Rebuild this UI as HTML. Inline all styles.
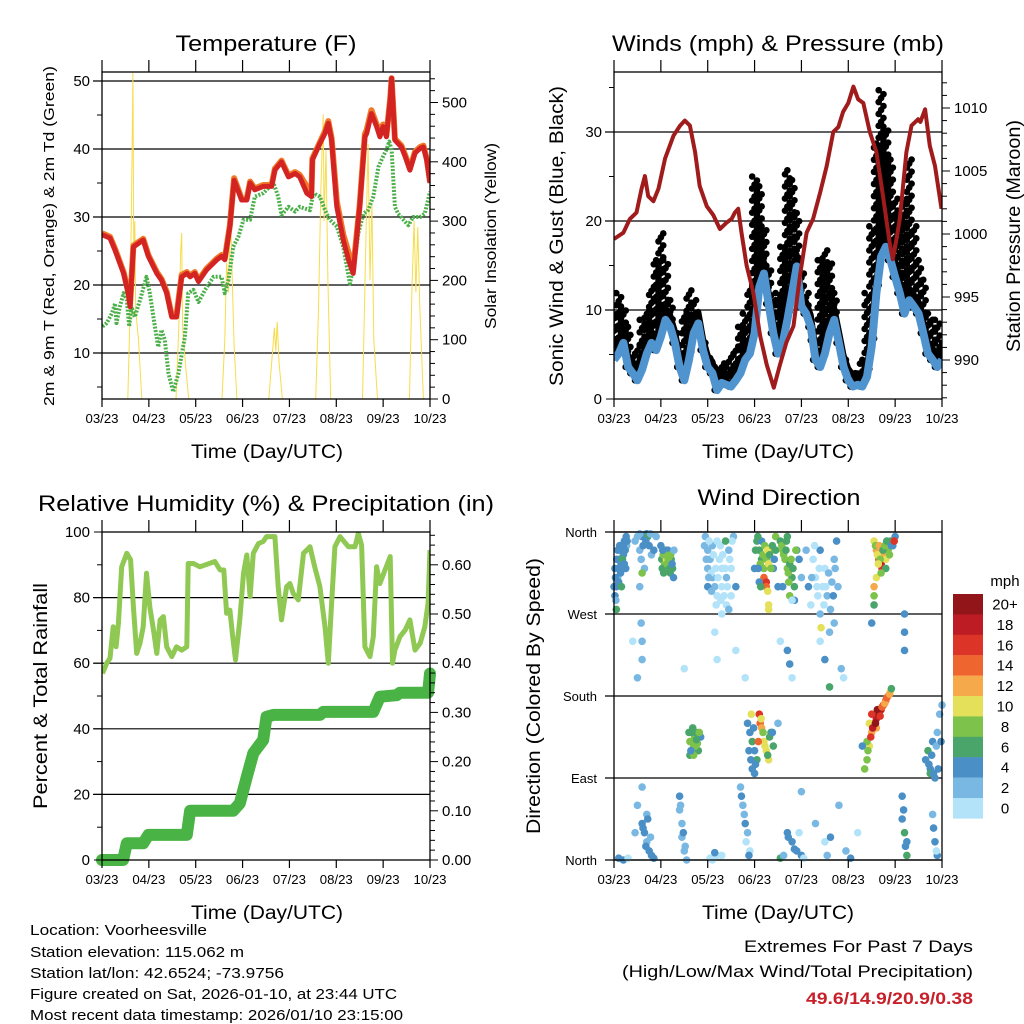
<!DOCTYPE html>
<html><head><meta charset="utf-8"><style>
html,body{margin:0;padding:0;background:#fff}
svg{display:block;font-family:"Liberation Sans",Arial,sans-serif}
</style></head><body>
<svg id="s" width="1024" height="1024" viewBox="0 0 1024 1024">
<rect x="0" y="0" width="1024" height="1024" fill="#fff"/>
<g font-size="22" text-anchor="middle" fill="#000">
<text x="266" y="51" textLength="181" lengthAdjust="spacingAndGlyphs">Temperature (F)</text>
<text x="778" y="51" textLength="332" lengthAdjust="spacingAndGlyphs">Winds (mph) &amp; Pressure (mb)</text>
<text x="266" y="511" textLength="456" lengthAdjust="spacingAndGlyphs">Relative Humidity (%) &amp; Precipitation (in)</text>
<text x="779" y="505" textLength="163" lengthAdjust="spacingAndGlyphs">Wind Direction</text>
</g>
<g font-size="19" text-anchor="middle">
<text x="267" y="458" textLength="152" lengthAdjust="spacingAndGlyphs">Time (Day/UTC)</text>
<text x="778" y="458" textLength="152" lengthAdjust="spacingAndGlyphs">Time (Day/UTC)</text>
<text x="267" y="919" textLength="152" lengthAdjust="spacingAndGlyphs">Time (Day/UTC)</text>
<text x="778" y="919" textLength="152" lengthAdjust="spacingAndGlyphs">Time (Day/UTC)</text>
<text transform="translate(54,236) rotate(-90)" font-size="15" textLength="340" lengthAdjust="spacingAndGlyphs">2m &amp; 9m T (Red, Orange) &amp; 2m Td (Green)</text>
<text transform="translate(496,236) rotate(-90)" font-size="16" textLength="186" lengthAdjust="spacingAndGlyphs">Solar Insolation (Yellow)</text>
<text transform="translate(563,236) rotate(-90)" font-size="19" textLength="300" lengthAdjust="spacingAndGlyphs">Sonic Wind &amp; Gust (Blue, Black)</text>
<text transform="translate(1020,236) rotate(-90)" font-size="19" textLength="232" lengthAdjust="spacingAndGlyphs">Station Pressure (Maroon)</text>
<text transform="translate(47,696) rotate(-90)" font-size="19" textLength="226" lengthAdjust="spacingAndGlyphs">Percent &amp; Total Rainfall</text>
<text transform="translate(540,696) rotate(-90)" font-size="19" textLength="276" lengthAdjust="spacingAndGlyphs">Direction (Colored By Speed)</text>
</g>
<g font-size="15" fill="#000">
<text x="30" y="935" textLength="177" lengthAdjust="spacingAndGlyphs">Location: Voorheesville</text>
<text x="30" y="957" textLength="214" lengthAdjust="spacingAndGlyphs">Station elevation: 115.062 m</text>
<text x="30" y="978" textLength="254" lengthAdjust="spacingAndGlyphs">Station lat/lon: 42.6524; -73.9756</text>
<text x="30" y="999" textLength="367" lengthAdjust="spacingAndGlyphs">Figure created on Sat, 2026-01-10, at 23:44 UTC</text>
<text x="30" y="1020" textLength="373" lengthAdjust="spacingAndGlyphs">Most recent data timestamp: 2026/01/10 23:15:00</text>
</g>
<g font-size="17" text-anchor="end">
<text x="973" y="952" textLength="229" lengthAdjust="spacingAndGlyphs">Extremes For Past 7 Days</text>
<text x="973" y="977" textLength="351" lengthAdjust="spacingAndGlyphs">(High/Low/Max Wind/Total Precipitation)</text>
<text x="973" y="1004" fill="#c8202a" font-weight="bold" textLength="167" lengthAdjust="spacingAndGlyphs">49.6/14.9/20.9/0.38</text>
</g>
<text x="1005" y="586" font-size="15" text-anchor="middle">mph</text>
</svg>
<script>
// ---------- data ----------
var xTickLabels=["03/23","04/23","05/23","06/23","07/23","08/23","09/23","10/23"];
var tempDays=[0,0.17,0.28,0.46,0.56,0.60,0.67,0.88,0.99,1.17,1.27,1.38,1.49,1.59,1.70,1.81,1.88,1.98,2.06,2.23,2.45,2.55,2.62,2.73,2.82,2.87,2.98,3.09,3.16,3.26,3.44,3.62,3.69,3.83,3.98,4.12,4.22,4.37,4.47,4.49,4.65,4.76,4.83,4.90,5.01,5.15,5.26,5.36,5.43,5.50,5.61,5.65,5.75,5.86,5.93,6.00,6.07,6.15,6.18,6.22,6.25,6.39,6.47,6.57,6.68,6.79,6.86,6.93,7.0];
var temp2m=[27.4,26.9,25.1,21.7,18.8,16.8,25.6,26.6,24.2,21.7,20.7,18.8,15.3,15.3,21.2,21.7,21.2,21.7,20.5,22.2,23.7,24.2,23.7,28.6,35.4,34.5,32.5,32.5,35.0,34.0,34.5,34.5,36.9,38.1,35.9,36.4,35.9,33.5,33.0,38.4,40.8,42.3,43.8,41.3,31.5,26.6,23.7,21.7,26.6,31.5,41.8,42.3,45.2,43.3,41.8,43.3,41.8,47.2,50.4,45.2,41.3,40.3,38.9,36.9,39.4,40.1,40.3,38.4,35.0];
var temp9m=[27.6,27.1,25.3,21.9,19.0,17.2,25.8,26.8,24.4,21.9,20.9,19.0,15.5,15.5,21.5,21.9,21.4,21.9,20.7,22.4,23.9,24.4,23.9,28.8,35.7,34.8,32.7,32.7,35.2,34.2,34.7,34.7,37.1,38.3,36.1,36.6,36.2,34.5,33.8,38.6,41.0,42.6,44.1,41.6,32.3,27.4,24.8,22.3,27.0,31.8,42.2,42.8,45.7,43.6,42.8,43.6,42.0,47.4,50.4,45.4,41.5,40.5,39.1,37.1,39.6,40.3,40.5,38.6,35.2];
var dewDays=[0.01,0.10,0.21,0.28,0.31,0.38,0.46,0.53,0.58,0.63,0.70,0.81,0.95,1.02,1.13,1.20,1.27,1.34,1.42,1.52,1.63,1.77,1.84,1.95,2.06,2.20,2.38,2.55,2.62,2.70,2.80,2.91,3.02,3.16,3.26,3.44,3.66,3.76,3.83,3.98,4.12,4.22,4.44,4.51,4.65,4.76,4.86,5.01,5.15,5.29,5.40,5.47,5.58,5.68,5.79,5.90,6.00,6.07,6.13,6.18,6.25,6.32,6.43,6.54,6.64,6.79,6.89,7.0];
var dewVals=[13.9,14.4,15.8,17.3,14.4,16.8,18.8,17.8,13.9,16.8,15.3,17.8,21.2,18.8,13.9,10.9,13.4,11.9,7.0,4.3,7.0,12.4,18.8,19.3,17.5,19.3,21.2,21.2,18.8,20.7,25.6,27.1,29.6,29.6,33.0,33.5,35.0,33.0,30.3,31.5,30.8,31.5,31.0,33.5,33.0,31.0,29.6,28.6,25.6,20.2,23.7,27.6,30.5,31.0,33.0,37.4,38.9,39.9,41.1,39.9,31.5,30.5,29.6,28.8,30.0,30.0,30.5,33.7];
var solarDays=[0,0.55,0.60,0.64,0.66,0.68,0.70,0.72,0.78,0.85,1.58,1.64,1.68,1.70,1.72,1.78,1.85,2.56,2.62,2.66,2.70,2.74,2.78,2.82,2.88,3.56,3.62,3.68,3.71,3.74,3.78,3.85,4.56,4.62,4.67,4.72,4.74,4.78,4.82,4.88,5.56,5.60,5.64,5.68,5.72,5.76,5.80,5.88,6.56,6.62,6.66,6.70,6.74,6.78,6.86,7.0];
var solarVals=[0,0,150,400,550,200,300,150,100,0,0,120,250,280,120,60,0,0,100,230,180,320,200,90,0,0,60,120,80,130,60,0,0,150,350,480,300,420,200,0,0,150,300,430,200,330,100,0,0,200,300,180,290,160,0,0];
var presDays=[0,0.20,0.34,0.48,0.59,0.66,0.73,0.84,0.95,1.09,1.27,1.41,1.51,1.62,1.73,1.83,1.98,2.12,2.26,2.40,2.51,2.58,2.65,2.72,2.83,2.97,3.12,3.26,3.41,3.54,3.68,3.83,3.97,4.11,4.25,4.40,4.54,4.68,4.79,4.89,5.00,5.11,5.21,5.32,5.46,5.60,5.75,5.89,5.95,6.03,6.10,6.24,6.35,6.49,6.54,6.64,6.74,6.85,6.99];
var presVals=[999.6,1000.1,1001.2,1001.7,1003.6,1004.6,1003.0,1002.6,1003.6,1006.0,1007.8,1008.6,1009.0,1008.6,1006.5,1003.8,1002.2,1001.5,1000.4,1000.9,1001.2,1001.7,1002.0,1000.1,997.5,995.4,991.9,989.6,987.8,989.6,991.4,992.7,996.7,1000.1,1001.2,1003.3,1005.4,1008.1,1008.5,1009.7,1010.4,1011.7,1010.7,1010.4,1008.1,1006.5,1002.8,999.1,998.0,999.6,1001.2,1006.5,1008.6,1009.1,1008.9,1009.9,1007.0,1005.4,1002.0];
var windDays=[0,0.1,0.2,0.3,0.4,0.5,0.6,0.7,0.8,0.9,1.0,1.1,1.2,1.3,1.4,1.5,1.6,1.7,1.8,1.9,2.0,2.1,2.2,2.3,2.4,2.5,2.6,2.7,2.8,2.9,3.0,3.1,3.2,3.3,3.4,3.5,3.6,3.7,3.8,3.9,4.0,4.1,4.2,4.3,4.4,4.5,4.6,4.7,4.8,4.9,5.0,5.1,5.2,5.3,5.4,5.5,5.6,5.7,5.8,5.9,6.0,6.1,6.2,6.3,6.4,6.5,6.6,6.7,6.8,6.9,7.0];
var windMean=[4.4,5.1,6.3,3.6,2.9,2.1,3.3,5.1,6.3,5.5,7.0,8.9,8.1,6.3,3.6,2.1,4.4,7.4,8.5,5.5,3.6,2.9,1.0,1.8,1.6,1.4,2.1,2.9,4.4,5.1,7.4,12.6,14.1,10.7,7.4,5.1,6.3,8.9,11.9,14.9,10.4,9.6,8.1,4.4,3.6,5.1,7.4,8.9,6.3,3.6,2.1,1.4,1.6,1.4,2.5,5.9,11.9,16.0,17.1,15.6,13.7,11.9,9.6,11.1,10.4,9.6,7.4,5.1,4.4,3.6,4.4];
var gustMax=[10,11.9,10.4,8.1,5.1,5.9,8.9,10,12.6,15.6,18.6,15.6,11.1,7.4,5.1,9.6,12.2,11.1,7.4,6.3,5.1,3.6,3.3,4.0,3.6,5.1,5.9,8.1,9.6,12.6,25,23.9,19.4,14.9,11.1,11.9,17.1,25.7,24.6,20.9,14.1,11.9,6.6,5.1,15.6,16.7,15.2,11.9,6.6,4.4,3.3,2.9,2.9,4.4,11.9,19.4,28.7,34.7,30.6,26.9,22.5,20.5,22.5,26.9,19.4,15.6,13.4,9.6,8.9,8.9,6.3];
var rhDays=[0.01,0.10,0.17,0.24,0.30,0.35,0.42,0.53,0.61,0.67,0.74,0.81,0.88,0.95,1.02,1.10,1.17,1.24,1.31,1.38,1.49,1.59,1.70,1.81,1.84,1.95,2.09,2.41,2.52,2.60,2.66,2.73,2.79,2.85,2.94,3.02,3.09,3.16,3.23,3.34,3.44,3.51,3.69,3.76,3.83,3.94,4.01,4.08,4.19,4.30,4.44,4.54,4.65,4.76,4.83,4.90,4.97,5.08,5.26,5.40,5.47,5.54,5.61,5.72,5.79,5.86,5.93,6.04,6.15,6.20,6.25,6.36,6.47,6.57,6.68,6.79,6.89,6.96,7.0];
var rhVals=[56.9,60.0,61.5,71.1,65.0,72.2,89.4,93.5,91.5,77.2,63.0,66.1,71.1,87.4,77.2,70.1,63.0,73.2,74.2,65.0,62.0,65.0,64.0,65.0,90.4,90.4,89.4,91.0,88.4,88.4,75.2,76.2,68.1,61.0,73.2,87.4,93.0,80.3,93.5,96.5,97.1,98.6,98.6,83.3,73.2,83.3,84.3,81.3,79.3,93.5,95.5,89.4,83.3,71.1,60.0,78.3,95.5,98.6,95.5,95.5,99.6,96.0,65.0,62.0,68.1,89.4,84.3,88.4,92.5,60.0,64.0,68.1,70.1,73.2,64.0,66.1,71.1,78.3,94.5];
var precipDays=[0,0.45,0.53,0.88,0.99,1.81,1.88,2.80,2.94,3.09,3.23,3.44,3.51,3.66,4.65,4.72,5.79,5.93,6.29,6.36,6.96,7.0];
var precipVals=[0,0,0.034,0.034,0.051,0.051,0.10,0.10,0.115,0.169,0.217,0.244,0.291,0.295,0.295,0.301,0.301,0.332,0.335,0.34,0.34,0.379];
var dirDays=[0.02,0.05,0.08,0.1,0.12,0.15,0.18,0.2,0.25,0.05,0.03,0.22,0.27,0.1,0.15,0.45,0.55,0.6,0.7,0.75,0.8,0.65,0.55,0.58,0.6,0.6,0.72,1.02,1.05,1.08,1.1,1.12,1.15,1.18,1.2,1.22,1.25,1.1,1.15,1.27,1.0,1.95,2.0,2.0,2.05,2.1,2.1,2.15,2.2,2.25,2.3,2.3,2.35,2.4,2.45,2.5,2.4,2.55,2.6,2.0,2.2,2.15,2.3,2.5,3.05,3.1,3.15,3.2,3.25,3.3,3.35,3.2,3.25,3.25,3.28,3.3,3.3,3.15,3.0,3.45,3.45,3.4,3.5,3.1,3.55,3.6,3.65,3.7,3.75,3.8,3.85,3.75,3.7,3.9,3.95,4.0,3.6,3.85,4.25,4.3,4.35,4.4,4.45,4.5,4.55,4.6,4.65,4.7,4.75,4.4,4.1,4.15,4.2,4.7,5.55,5.6,5.65,5.7,5.72,5.75,5.8,5.85,5.9,5.95,6.0,5.6,5.55,5.55,5.55,5.5,5.8,1.6,1.65,1.7,1.72,1.75,1.8,1.62,1.68,1.78,1.85,2.85,2.9,2.95,3.0,3.05,3.1,3.12,3.15,3.2,3.25,3.3,3.35,3.4,2.95,3.0,3.5,5.35,5.4,5.45,5.5,5.55,5.6,5.65,5.7,5.75,5.8,5.85,5.9,5.5,5.6,5.45,5.4,5.3,6.65,6.7,6.75,6.8,6.85,6.9,6.95,7.0,6.75,0.6,0.65,0.7,0.7,0.75,0.8,0.2,0.6,0.5,1.4,1.4,1.45,1.45,1.5,1.55,2.1,2.2,2.3,2.7,2.75,2.8,2.85,2.9,3.55,3.7,3.8,3.9,4.0,4.3,4.5,4.8,4.95,6.15,6.15,6.2,6.25,6.25,6.8,6.85,6.9,0.45,5.2,4.0,0.4,0.5,1.5,2.2,2.6,2.8,3.55,3.7,3.75,3.8,4.4,4.5,4.85,4.9,4.6,6.2,6.2,6.2,
0.0,0.02,0.04,0.06,0.08,0.12,0.14,0.16,0.18,0.2,0.22,0.24,0.26,0.28,0.5,0.55,0.62,0.68,0.78,0.85,0.9,0.58,0.6,1.03,1.06,1.09,1.13,1.16,1.19,1.21,1.24,1.04,1.28,1.93,1.97,2.03,2.07,2.12,2.17,2.22,2.27,2.32,2.37,2.42,2.47,2.52,2.18,2.28,2.45,2.02,2.08,2.38,3.02,3.07,3.12,3.18,3.22,3.27,3.32,3.35,3.38,3.42,3.08,3.13,3.58,3.62,3.67,3.72,3.78,3.82,3.88,3.68,3.73,3.8,4.22,4.28,4.33,4.38,4.48,4.52,4.58,4.62,4.68,4.72,4.78,4.42,5.58,5.62,5.66,5.68,5.74,5.78,5.82,5.88,5.92,5.98,5.64,5.7,1.62,1.66,1.7,1.74,1.76,1.82,1.64,2.88,2.92,2.98,3.02,3.08,3.14,3.18,3.22,3.28,3.32,3.38,2.93,5.42,5.48,5.52,5.58,5.62,5.68,5.72,5.78,5.82,5.88,5.92,6.72,6.78,6.82,6.88,6.92,6.98,0.62,0.68,0.72,0.78,0.85,1.42,1.48,1.52,2.72,2.78,2.82,2.88,3.62,3.72,3.85,3.95,4.55,4.62,6.18,6.22,6.82,6.88,2.05,2.15,4.05,5.05,0.1,0.3];
var dirDegs=[290,300,310,320,330,340,345,335,320,275,310,350,345,305,325,350,340,355,358,345,335,320,300,260,240,220,355,330,335,325,320,330,318,325,315,330,320,340,340,310,345,355,340,320,330,310,345,300,350,330,320,300,290,310,340,320,280,355,300,300,290,250,270,290,350,340,330,320,330,325,340,310,305,300,295,280,275,350,320,340,355,320,300,305,350,340,330,320,325,310,300,290,355,340,330,310,300,285,330,310,290,270,300,320,290,250,305,330,350,340,340,300,280,260,350,340,330,325,320,335,330,340,350,345,355,310,300,290,280,260,320,140,130,125,135,140,120,115,145,128,135,150,140,130,120,110,160,150,145,130,120,110,140,125,100,95,150,100,110,125,140,150,155,160,165,170,175,180,185,160,145,150,130,125,110,120,100,130,90,140,160,170,95,40,30,20,50,10,5,0,80,60,70,55,40,25,10,0,0,5,5,80,60,40,30,10,2,30,20,10,5,40,20,60,10,70,45,30,20,5,50,20,5,30,30,75,240,200,210,220,230,200,240,230,215,200,240,220,210,200,190,250,270,230,
300,320,285,330,340,345,315,300,330,345,325,340,355,350,355,358,345,350,358,340,355,330,315,320,315,335,325,330,320,335,325,340,340,345,330,350,315,335,320,310,345,335,320,300,330,350,280,285,275,310,295,350,340,355,325,335,345,340,335,320,345,330,320,300,345,335,340,315,330,320,340,350,305,285,310,345,300,320,280,300,315,275,290,320,300,255,345,335,345,330,340,345,350,335,345,350,325,315,130,140,115,125,132,140,120,120,110,145,105,130,155,140,125,115,135,140,160,120,135,145,150,165,158,168,172,178,182,188,105,115,95,125,100,130,35,15,45,25,2,60,30,15,70,50,20,5,5,25,12,30,5,25,55,15,35,10,2,8,2,2,2,2];
var dirSpds=[4,4,3,5,6,4,4,5,4,6,4,4,3,4,4,2,2,4,4,4,3,2,2,2,2,2,6,7,8,8,9,10,8,7,6,6,7,6,4,4,4,3,3,2,3,2,2,2,1,1,1,1,1,2,2,1,1,3,4,4,0,0,1,0,6,7,6,8,8,10,8,14,16,14,10,10,10,4,4,6,8,4,4,4,6,8,8,8,6,6,6,8,7,4,4,2,4,4,1,1,1,2,1,0,2,2,2,3,4,4,2,4,0,2,10,12,14,18,16,12,10,8,6,4,4,10,12,8,6,4,6,6,8,8,8,6,6,6,7,8,4,4,4,6,4,6,16,14,12,10,10,10,6,6,4,4,2,8,8,10,12,14,18,20,18,16,14,12,10,16,12,10,8,4,4,6,4,4,4,2,2,2,6,4,4,2,3,4,4,4,2,2,4,3,2,2,2,2,0,0,0,2,2,4,2,0,6,4,4,4,4,2,0,2,2,4,4,6,4,6,2,4,4,2,0,2,0,2,0,0,0,0,0,4,4,0,0,4,2,0,6,4,4,
4,4,4,3,4,4,5,4,6,6,4,4,4,4,4,2,2,4,4,2,4,2,2,8,6,6,8,8,8,6,8,4,4,2,2,2,1,1,1,0,1,0,1,0,1,1,0,0,0,2,2,2,6,6,6,8,8,8,10,6,8,6,4,4,6,8,8,6,8,8,6,8,6,8,1,2,1,0,1,1,0,2,2,4,2,2,10,8,10,12,8,6,8,6,8,4,16,10,8,8,6,8,8,6,8,4,4,4,4,4,14,10,8,10,6,6,4,10,8,16,18,20,20,16,14,12,14,12,6,4,4,4,2,4,4,4,4,4,2,4,2,4,2,4,2,0,4,2,4,4,0,2,4,4,4,4,0,0,4,0,4,4];
var speedBinLabels=["20+","18","16","14","12","10","8","6","4","2","0"];
var speedColors=["#b3e3f9","#7ab8e4","#4a8fc6","#4aa56b","#7dc24a","#e5e05a","#f5a94a","#ee6530","#dd3428","#bd1c24","#921619"];

// ---------- helpers ----------
var NS="http://www.w3.org/2000/svg", svg=document.getElementById('s');
function mk(tag,attrs,parent){var e=document.createElementNS(NS,tag);for(var k in attrs)e.setAttribute(k,attrs[k]);(parent||svg).appendChild(e);return e;}
function dayX(p,d){return p.x0+d*(p.x1-p.x0)/7;}
function pathOf(xs,ys,fx,fy){var s="";for(var i=0;i<xs.length;i++){s+=(i?"L":"M")+fx(xs[i]).toFixed(1)+","+fy(ys[i]).toFixed(1);}return s;}

var P1={x0:102,x1:430,y0:72,y1:399}, P2={x0:614,x1:942,y0:72,y1:399}, P3={x0:102,x1:430,y0:532,y1:860}, P4={x0:614,x1:942,y0:532,y1:860};
function tY(v){return 81+(50-v)*6.8;} function sY(v){return 399-v*0.593;}
function wY(v){return 399-v*8.9;} function pY(v){return 360-(v-990)*12.6;}
function rY(v){return 860-v*3.28;} function qY(v){return 860-v*492;}
function dY(v){return 860-v*328/360;}

function grid(p,vals,fy,name){vals.forEach(function(v){var l=mk('line',{x1:p.x0-9,x2:p.x1,y1:fy(v),y2:fy(v),stroke:'#000','stroke-width':1.2});

});}
function xAxis(p,name){for(var i=0;i<8;i++){var x=dayX(p,i);
var a=mk('line',{x1:x,x2:x,y1:p.y1,y2:p.y1+8,stroke:'#000','stroke-width':1.2});


var b=mk('line',{x1:x,x2:x,y1:p.y0-12,y2:p.y0,stroke:'#000','stroke-width':1.2});


var t=mk('text',{x:x,y:p.y1+24,'font-size':13,'text-anchor':'middle',textLength:33,lengthAdjust:'spacingAndGlyphs'});t.textContent=xTickLabels[i];

}}
function yAxis(p,side,min,max,major,minor,fy,fmt,name){
 var x=side<0?p.x0:p.x1;
 for(var v=min;v<=max+1e-9;v+=minor){var isM=Math.abs(v/major-Math.round(v/major))<1e-6;var y=fy(v);if(y<p.y0-0.5||y>p.y1+0.5)continue;
  var l=mk('line',{x1:x,x2:x+side*(isM?8:5),y1:y,y2:y,stroke:'#000','stroke-width':1});
  
  
  if(isM&&fmt){var t=mk('text',{x:x+side*12,y:y+5,'font-size':15,'text-anchor':side<0?'end':'start'});t.textContent=fmt(v);
  
  }}}
function frame(p,name){var r=mk('rect',{x:p.x0,y:p.y0,width:p.x1-p.x0,height:p.y1-p.y0,fill:'none',stroke:'#000','stroke-width':1.3});

}
function clip(p,id){var c=mk('clipPath',{id:id});mk('rect',{x:p.x0,y:p.y0,width:p.x1-p.x0,height:p.y1-p.y0},c);return 'url(#'+id+')';}

// ---------- panel 1: temperature ----------
grid(P1,[10,20,30,40,50],tY,'temperature-gridline');
var g1=mk('g',{'clip-path':clip(P1,'c1')});


var e=mk('path',{d:pathOf(solarDays,solarVals,function(d){return dayX(P1,d);},sY),fill:'none',stroke:'#f7dc4a','stroke-width':1},g1);


e=mk('path',{d:pathOf(dewDays,dewVals,function(d){return dayX(P1,d);},tY),fill:'none',stroke:'#4cb04a','stroke-width':4,'stroke-dasharray':'2 1.5','stroke-linejoin':'round'},g1);


e=mk('path',{d:pathOf(tempDays,temp9m,function(d){return dayX(P1,d);},tY),fill:'none',stroke:'#f07a2a','stroke-width':6,'stroke-linejoin':'round'},g1);


e=mk('path',{d:pathOf(tempDays,temp2m,function(d){return dayX(P1,d);},tY),fill:'none',stroke:'#d42323','stroke-width':5,'stroke-linejoin':'round'},g1);


frame(P1,'temperature');xAxis(P1,'temperature');
yAxis(P1,-1,5,50,10,5,tY,function(v){return v;},'temperature-y');
yAxis(P1,1,0,550,100,20,sY,function(v){return v;},'solar-y');

// ---------- panel 2: winds ----------
grid(P2,[10,20,30],wY,'wind-gridline');
var g2=mk('g',{'clip-path':clip(P2,'c2')});


windDays.forEach(function(d,i){
 var lo=windMean[i], hi=gustMax[i], n=Math.max(1,Math.round((hi-lo)/0.45));
 for(var k=0;k<=n;k++){var v=lo+(hi-lo)*k/n;var x=dayX(P2,d)+((k%3)-1)*2.4;
  var c=mk('circle',{cx:x,cy:wY(v),r:3.3,fill:'#000'},g2);
  
  }});
e=mk('path',{d:pathOf(windDays,windMean,function(d){return dayX(P2,d);},function(v){return wY(v+1.3);}),fill:'none',stroke:'#000','stroke-width':6,'stroke-linejoin':'round'},g2);


e=mk('path',{d:pathOf(windDays,windMean,function(d){return dayX(P2,d);},wY),fill:'none',stroke:'#4f93cf','stroke-width':8,'stroke-linejoin':'round'},g2);


e=mk('path',{d:pathOf(presDays,presVals,function(d){return dayX(P2,d);},pY),fill:'none',stroke:'#a01c1c','stroke-width':4,'stroke-linejoin':'round'},g2);


frame(P2,'winds');xAxis(P2,'winds');
yAxis(P2,-1,0,35,10,5,wY,function(v){return v;},'wind-y');
yAxis(P2,1,987,1012,5,1,pY,function(v){return v;},'pressure-y');

// ---------- panel 3: humidity ----------
grid(P3,[20,40,60,80],rY,'humidity-gridline');
var g3=mk('g',{'clip-path':clip(P3,'c3')});


e=mk('path',{d:pathOf(precipDays,precipVals,function(d){return dayX(P3,d);},qY),fill:'none',stroke:'#49b445','stroke-width':12,'stroke-linejoin':'round','stroke-linecap':'round'},svg);


e=mk('path',{d:pathOf(rhDays,rhVals,function(d){return dayX(P3,d);},rY),fill:'none',stroke:'#8fc853','stroke-width':5,'stroke-linejoin':'round'},g3);


frame(P3,'humidity');xAxis(P3,'humidity');
yAxis(P3,-1,0,100,20,10,rY,function(v){return v;},'humidity-y');
yAxis(P3,1,0,0.66,0.1,0.02,qY,function(v){return v.toFixed(2);},'precip-y');

// ---------- panel 4: wind direction ----------
grid(P4,[0,90,180,270,360],dY,'direction-gridline');
dirDays.forEach(function(d,i){var s=dirSpds[i];if(s===undefined)s=0;var b=Math.min(10,Math.floor(s/2));
 var deg=dirDegs[i];if(deg===undefined)return;
 var c=mk('circle',{cx:dayX(P4,d),cy:dY(deg),r:3.8,fill:speedColors[b]},svg);
 
 });
frame(P4,'direction');xAxis(P4,'direction');
["North","East","South","West","North"].forEach(function(n,i){var y=dY(i*90);
 var t=mk('text',{x:597,y:y+5,'font-size':13,'text-anchor':'end'});t.textContent=n;
 
 });
// colorbar
speedBinLabels.forEach(function(lab,i){var y=594+i*20.4;
 var r=mk('rect',{x:953,y:y,width:30,height:20.6,fill:speedColors[10-i]});
 
 
 var t=mk('text',{x:1005,y:y+15.5,'font-size':15,'text-anchor':'middle'});t.textContent=lab;
 
 });
</script>
</body></html>
